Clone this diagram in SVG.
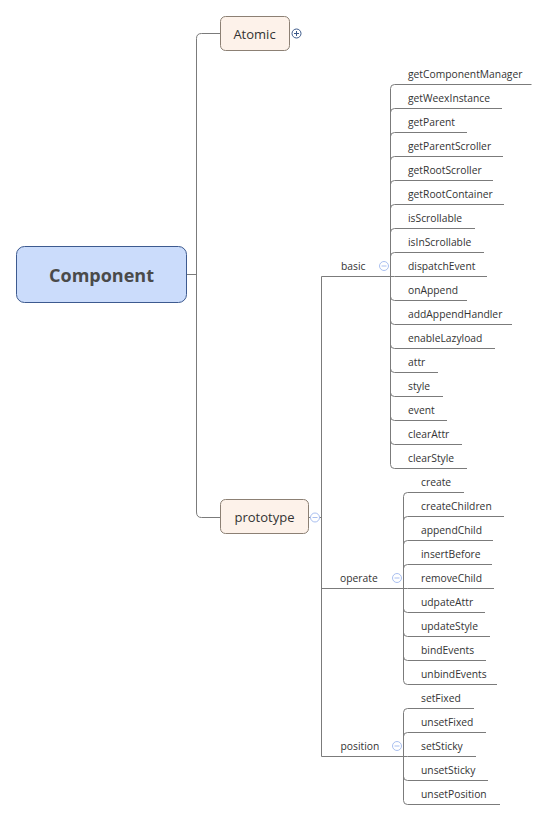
<svg xmlns="http://www.w3.org/2000/svg" width="548" height="820" viewBox="0 0 548 820">
<style>
.c{fill:none;stroke:#7b7b7b;stroke-width:1}
.u{stroke:#7b7b7b;stroke-width:1}
.t{font-family:"Open Sans","Noto Sans","Liberation Sans",sans-serif;font-size:10.3px;fill:#333}
.lt{font-family:"Open Sans","Noto Sans","Liberation Sans",sans-serif;font-size:13px;fill:#333;text-anchor:middle}
.mc{fill:#fff;stroke:#a9bff0;stroke-width:1}
.ml{stroke:#a9bff0;stroke-width:1}
.box{fill:#fdf2ea;stroke:#8c8074;stroke-width:1}
</style>
<rect width="548" height="820" fill="#fff"/>
<g id="connectors">
<path class="c" d="M186,274.5 H196.5"/>
<path class="c" d="M220,33.5 H201.5 Q196.5,33.5 196.5,38.5 V512 Q196.5,517.5 201.5,517.5 H220"/>
<path class="c" d="M309,517.5 H321.5"/>
<path class="c" d="M390.5,276.5 H321.5 V756.5 H403.5"/>
<path class="c" d="M321.5,588.5 H403.5"/>
<path class="c" d="M390.5,276.5 V88.5 Q390.5,84.5 394.5,84.5"/>
<path class="c" d="M390.5,276.5 V112.5 Q390.5,108.5 394.5,108.5"/>
<path class="c" d="M390.5,276.5 V136.5 Q390.5,132.5 394.5,132.5"/>
<path class="c" d="M390.5,276.5 V160.5 Q390.5,156.5 394.5,156.5"/>
<path class="c" d="M390.5,276.5 V184.5 Q390.5,180.5 394.5,180.5"/>
<path class="c" d="M390.5,276.5 V208.5 Q390.5,204.5 394.5,204.5"/>
<path class="c" d="M390.5,276.5 V232.5 Q390.5,228.5 394.5,228.5"/>
<path class="c" d="M390.5,276.5 V256.5 Q390.5,252.5 394.5,252.5"/>
<path class="c" d="M390.5,276.5 H394.5"/>
<path class="c" d="M390.5,276.5 V296.5 Q390.5,300.5 394.5,300.5"/>
<path class="c" d="M390.5,276.5 V320.5 Q390.5,324.5 394.5,324.5"/>
<path class="c" d="M390.5,276.5 V344.5 Q390.5,348.5 394.5,348.5"/>
<path class="c" d="M390.5,276.5 V368.5 Q390.5,372.5 394.5,372.5"/>
<path class="c" d="M390.5,276.5 V392.5 Q390.5,396.5 394.5,396.5"/>
<path class="c" d="M390.5,276.5 V416.5 Q390.5,420.5 394.5,420.5"/>
<path class="c" d="M390.5,276.5 V440.5 Q390.5,444.5 394.5,444.5"/>
<path class="c" d="M390.5,276.5 V464.5 Q390.5,468.5 394.5,468.5"/>
<path class="c" d="M403.5,588.5 V496.5 Q403.5,492.5 407.5,492.5"/>
<path class="c" d="M403.5,588.5 V520.5 Q403.5,516.5 407.5,516.5"/>
<path class="c" d="M403.5,588.5 V544.5 Q403.5,540.5 407.5,540.5"/>
<path class="c" d="M403.5,588.5 V568.5 Q403.5,564.5 407.5,564.5"/>
<path class="c" d="M403.5,588.5 H407.5"/>
<path class="c" d="M403.5,588.5 V608.5 Q403.5,612.5 407.5,612.5"/>
<path class="c" d="M403.5,588.5 V632.5 Q403.5,636.5 407.5,636.5"/>
<path class="c" d="M403.5,588.5 V656.5 Q403.5,660.5 407.5,660.5"/>
<path class="c" d="M403.5,588.5 V680.5 Q403.5,684.5 407.5,684.5"/>
<path class="c" d="M403.5,756.5 V712.5 Q403.5,708.5 407.5,708.5"/>
<path class="c" d="M403.5,756.5 V736.5 Q403.5,732.5 407.5,732.5"/>
<path class="c" d="M403.5,756.5 H407.5"/>
<path class="c" d="M403.5,756.5 V776.5 Q403.5,780.5 407.5,780.5"/>
<path class="c" d="M403.5,756.5 V800.5 Q403.5,804.5 407.5,804.5"/>
</g>
<g id="component">
<rect x="16.5" y="246.5" width="170" height="56" rx="8" fill="#cbdcfb" stroke="#3d5a8f"/>
<text x="101.5" y="282" font-family="'Open Sans','Noto Sans','Liberation Sans',sans-serif" font-size="18" font-weight="bold" fill="#4a4a4a" text-anchor="middle">Component</text>
</g>
<g id="atomic">
<rect class="box" x="220.5" y="16.5" width="69" height="34" rx="5"/>
<text class="lt" x="254.5" y="38.5">Atomic</text>
<circle cx="296.5" cy="33.5" r="4.5" fill="#fff" stroke="#3d5a8a"/>
<path d="M294,33.5 H299 M296.5,31 V36" stroke="#3d5a8a" stroke-width="1"/>
</g>
<g id="prototype">
<rect class="box" x="220.5" y="499.5" width="88" height="34" rx="5"/>
<text class="lt" x="264.5" y="521.5">prototype</text>
<circle class="mc" cx="315" cy="517.5" r="4.5"/>
<path class="ml" d="M312.5,517.5 H317.5"/>
</g>
<g id="basic">
<text class="t" x="341" y="270">basic</text>
<circle class="mc" cx="384" cy="266" r="4.5"/>
<path class="ml" d="M381.5,266 H386.5"/>
</g>
<g id="operate">
<text class="t" x="340" y="582">operate</text>
<circle class="mc" cx="397" cy="578" r="4.5"/>
<path class="ml" d="M394.5,578 H399.5"/>
</g>
<g id="position">
<text class="t" x="340.5" y="750">position</text>
<circle class="mc" cx="397" cy="746" r="4.5"/>
<path class="ml" d="M394.5,746 H399.5"/>
</g>
<g id="getComponentManager"><text class="t" x="408" y="78">getComponentManager</text><path class="u" d="M394.5,84.5 H531.5"/></g>
<g id="getWeexInstance"><text class="t" x="408" y="102">getWeexInstance</text><path class="u" d="M394.5,108.5 H502"/></g>
<g id="getParent"><text class="t" x="408" y="126">getParent</text><path class="u" d="M394.5,132.5 H467"/></g>
<g id="getParentScroller"><text class="t" x="408" y="150">getParentScroller</text><path class="u" d="M394.5,156.5 H503"/></g>
<g id="getRootScroller"><text class="t" x="408" y="174">getRootScroller</text><path class="u" d="M394.5,180.5 H493"/></g>
<g id="getRootContainer"><text class="t" x="408" y="198">getRootContainer</text><path class="u" d="M394.5,204.5 H504"/></g>
<g id="isScrollable"><text class="t" x="408" y="222">isScrollable</text><path class="u" d="M394.5,228.5 H475"/></g>
<g id="isInScrollable"><text class="t" x="408" y="246">isInScrollable</text><path class="u" d="M394.5,252.5 H484"/></g>
<g id="dispatchEvent"><text class="t" x="408" y="270">dispatchEvent</text><path class="u" d="M394.5,276.5 H487"/></g>
<g id="onAppend"><text class="t" x="408" y="294">onAppend</text><path class="u" d="M394.5,300.5 H467"/></g>
<g id="addAppendHandler"><text class="t" x="408" y="318">addAppendHandler</text><path class="u" d="M394.5,324.5 H512"/></g>
<g id="enableLazyload"><text class="t" x="408" y="342">enableLazyload</text><path class="u" d="M394.5,348.5 H495"/></g>
<g id="attr"><text class="t" x="408" y="366">attr</text><path class="u" d="M394.5,372.5 H438"/></g>
<g id="style"><text class="t" x="408" y="390">style</text><path class="u" d="M394.5,396.5 H443"/></g>
<g id="event"><text class="t" x="408" y="414">event</text><path class="u" d="M394.5,420.5 H447"/></g>
<g id="clearAttr"><text class="t" x="408" y="438">clearAttr</text><path class="u" d="M394.5,444.5 H462"/></g>
<g id="clearStyle"><text class="t" x="408" y="462">clearStyle</text><path class="u" d="M394.5,468.5 H467"/></g>
<g id="create"><text class="t" x="421" y="486">create</text><path class="u" d="M407.5,492.5 H464"/></g>
<g id="createChildren"><text class="t" x="421" y="510">createChildren</text><path class="u" d="M407.5,516.5 H504"/></g>
<g id="appendChild"><text class="t" x="421" y="534">appendChild</text><path class="u" d="M407.5,540.5 H493"/></g>
<g id="insertBefore"><text class="t" x="421" y="558">insertBefore</text><path class="u" d="M407.5,564.5 H492"/></g>
<g id="removeChild"><text class="t" x="421" y="582">removeChild</text><path class="u" d="M407.5,588.5 H494"/></g>
<g id="udpateAttr"><text class="t" x="421" y="606">udpateAttr</text><path class="u" d="M407.5,612.5 H485"/></g>
<g id="updateStyle"><text class="t" x="421" y="630">updateStyle</text><path class="u" d="M407.5,636.5 H490"/></g>
<g id="bindEvents"><text class="t" x="421" y="654">bindEvents</text><path class="u" d="M407.5,660.5 H486"/></g>
<g id="unbindEvents"><text class="t" x="421" y="678">unbindEvents</text><path class="u" d="M407.5,684.5 H497"/></g>
<g id="setFixed"><text class="t" x="421" y="702">setFixed</text><path class="u" d="M407.5,708.5 H474"/></g>
<g id="unsetFixed"><text class="t" x="421" y="726">unsetFixed</text><path class="u" d="M407.5,732.5 H486"/></g>
<g id="setSticky"><text class="t" x="421" y="750">setSticky</text><path class="u" d="M407.5,756.5 H476"/></g>
<g id="unsetSticky"><text class="t" x="421" y="774">unsetSticky</text><path class="u" d="M407.5,780.5 H488"/></g>
<g id="unsetPosition"><text class="t" x="421" y="798">unsetPosition</text><path class="u" d="M407.5,804.5 H500"/></g>
</svg>
